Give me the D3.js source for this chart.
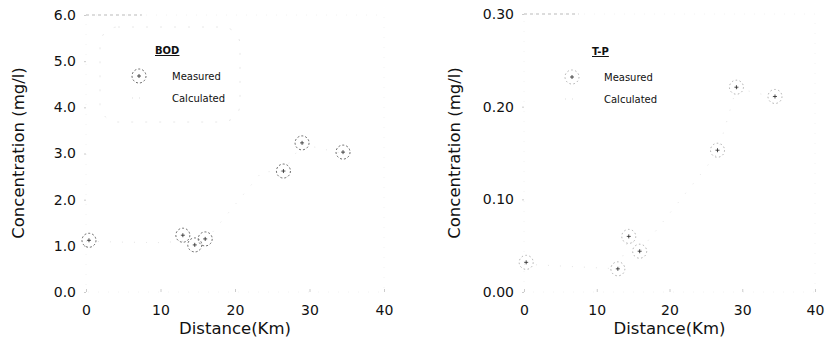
<!DOCTYPE html>
<html>
<head>
<meta charset="utf-8">
<script src="https://cdn.jsdelivr.net/npm/d3@7"></script>
<style>
  body { margin: 0; background: #fff; }
  text { font-family: "DejaVu Sans", Verdana, sans-serif; fill: #111; }
</style>
</head>
<body>
<div id="chart"></div>
<script>
// distances (km) of the measuring stations
var bodDist = [0.4, 13.0, 14.6, 16.0, 26.5, 29.0, 34.5];
var bodMeasured = [1.12, 1.23, 1.02, 1.15, 2.62, 3.23, 3.03];
var bodCalcDist = [0, 5, 10, 13, 15, 16, 23.6, 26.5, 29, 34.5];
var bodCalculated = [1.1, 1.08, 1.07, 1.1, 1.05, 1.1, 2.6, 2.62, 3.2, 3.0];

var tpDist = [0.3, 12.9, 14.4, 15.9, 26.6, 29.2, 34.5];
var tpMeasured = [0.032, 0.025, 0.060, 0.044, 0.153, 0.221, 0.211];
var tpCalcDist = [0, 13, 14.4, 16, 26.6, 29.2, 34.5];
var tpCalculated = [0.03, 0.025, 0.058, 0.045, 0.15, 0.22, 0.21];

var xTicks = [0, 10, 20, 30, 40];
var bodTicks = [0, 1, 2, 3, 4, 5, 6];
var tpTicks = [0, 0.1, 0.2, 0.3];

var svg = d3.select("#chart")
  .append("svg")
    .attr("width", 826)
    .attr("height", 345);

function panel(opt) {
  var x = d3.scaleLinear().domain([0, 40]).range([opt.left, opt.right]);
  var y = d3.scaleLinear().domain([0, opt.ymax]).range([292, opt.top]);
  var g = svg.append("g");

  // very faint frame, like the scanned original
  g.append("rect")
    .attr("x", x(0)).attr("y", y(opt.ymax))
    .attr("width", x(40) - x(0)).attr("height", y(0) - y(opt.ymax))
    .attr("fill", "none")
    .attr("stroke", "#f2f2f2")
    .attr("stroke-dasharray", "1,9");
  g.append("line")
    .attr("x1", x(0)).attr("x2", x(7.5))
    .attr("y1", y(opt.ymax)).attr("y2", y(opt.ymax))
    .attr("stroke", "#bbb").attr("stroke-dasharray", "3,3");

  // axes
  g.append("g")
    .attr("transform", "translate(" + x(0) + ",0)")
    .call(d3.axisLeft(y).tickValues(opt.yticks).tickFormat(d3.format(opt.fmt)).tickSize(2).tickPadding(8));
  var xa = g.append("g")
    .attr("transform", "translate(0," + y(0) + ")")
    .call(d3.axisBottom(x).tickValues(xTicks).tickSize(-3).tickPadding(10));
  g.selectAll(".domain").remove();
  g.selectAll(".tick line").attr("stroke", "#ccc");
  g.selectAll(".tick text")
    .style("font-family", "DejaVu Sans")
    .style("font-size", "14px")
    .attr("fill", "#111");
  xa.selectAll(".tick text").attr("dy", "0.95em");

  // axis titles
  g.append("text")
    .attr("transform", "translate(" + opt.ytitleX + ",153) rotate(-90)")
    .attr("text-anchor", "middle")
    .style("font-size", "16.5px")
    .text("Concentration (mg/l)");
  g.append("text")
    .attr("x", x(20))
    .attr("y", 334)
    .attr("text-anchor", "middle")
    .style("font-size", "16.5px")
    .text("Distance(Km)");

  // calculated line (barely visible)
  var calc = opt.calcDist.map(function(d, i) { return [d, opt.calc[i]]; });
  g.append("path")
    .datum(calc)
    .attr("fill", "none")
    .attr("stroke", "#e6e6e6")
    .attr("stroke-width", 1)
    .attr("stroke-dasharray", "1,11")
    .attr("d", d3.line().x(function(d) { return x(d[0]); }).y(function(d) { return y(d[1]); }));

  // measured points
  var pts = opt.dist.map(function(d, i) { return [d, opt.meas[i]]; });
  var m = g.selectAll(".pt").data(pts).enter().append("g")
    .attr("transform", function(d) { return "translate(" + x(d[0]) + "," + y(d[1]) + ")"; });
  m.append("circle")
    .attr("r", 7)
    .attr("fill", "none")
    .attr("stroke", opt.circ)
    .attr("stroke-width", 0.8)
    .attr("stroke-dasharray", opt.dash);
  m.append("path")
    .attr("d", "M-2,0H2M0,-2V2")
    .attr("stroke", "#222")
    .attr("stroke-width", 0.8);

  // legend
  var lx = opt.legX, ly = opt.legY;
  if (opt.box) {
    g.append("rect")
      .attr("x", lx - 55).attr("y", ly - 27)
      .attr("width", 140).attr("height", 95)
      .attr("rx", 18)
      .attr("fill", "none")
      .attr("stroke", "#e8e8e8")
      .attr("stroke-dasharray", "2,12");
  }
  g.append("text")
    .attr("x", lx).attr("y", ly)
    .style("font-size", "10px")
    .style("font-weight", "bold")
    .style("text-decoration", "underline")
    .text(opt.name);
  var lg = g.append("g").attr("transform", "translate(" + (lx + opt.symDx) + "," + (ly + 22) + ")");
  lg.append("circle").attr("r", 7).attr("fill", "none")
    .attr("stroke", opt.circ).attr("stroke-width", 0.8).attr("stroke-dasharray", opt.dash);
  lg.append("path").attr("d", "M-2,0H2M0,-2V2").attr("stroke", "#222").attr("stroke-width", 0.8);
  g.append("text")
    .attr("x", lx + opt.txtDx).attr("y", ly + 26)
    .style("font-size", "10px")
    .text("Measured");
  g.append("text")
    .attr("x", lx + opt.txtDx).attr("y", ly + 48)
    .style("font-size", "10px")
    .text("Calculated");
  g.append("line")
    .attr("x1", lx + opt.symDx - 7).attr("x2", lx + opt.symDx + 7)
    .attr("y1", ly + 44).attr("y2", ly + 44)
    .attr("stroke", "#ddd").attr("stroke-dasharray", "1,6");
}

panel({
  left: 86, right: 384, top: 15, ymax: 6,
  yticks: bodTicks, fmt: ".1f", ytitleX: 24,
  dist: bodDist, meas: bodMeasured, calcDist: bodCalcDist, calc: bodCalculated,
  circ: "#444", dash: "2,2", name: "BOD", legX: 155, legY: 54, symDx: -16, txtDx: 17, box: true
});

panel({
  left: 524, right: 815, top: 14, ymax: 0.3,
  yticks: tpTicks, fmt: ".2f", ytitleX: 460,
  dist: tpDist, meas: tpMeasured, calcDist: tpCalcDist, calc: tpCalculated,
  circ: "#999", dash: "1.5,2.5", name: "T-P", legX: 592, legY: 55, symDx: -20, txtDx: 12, box: false
});
</script>
</body>
</html>
